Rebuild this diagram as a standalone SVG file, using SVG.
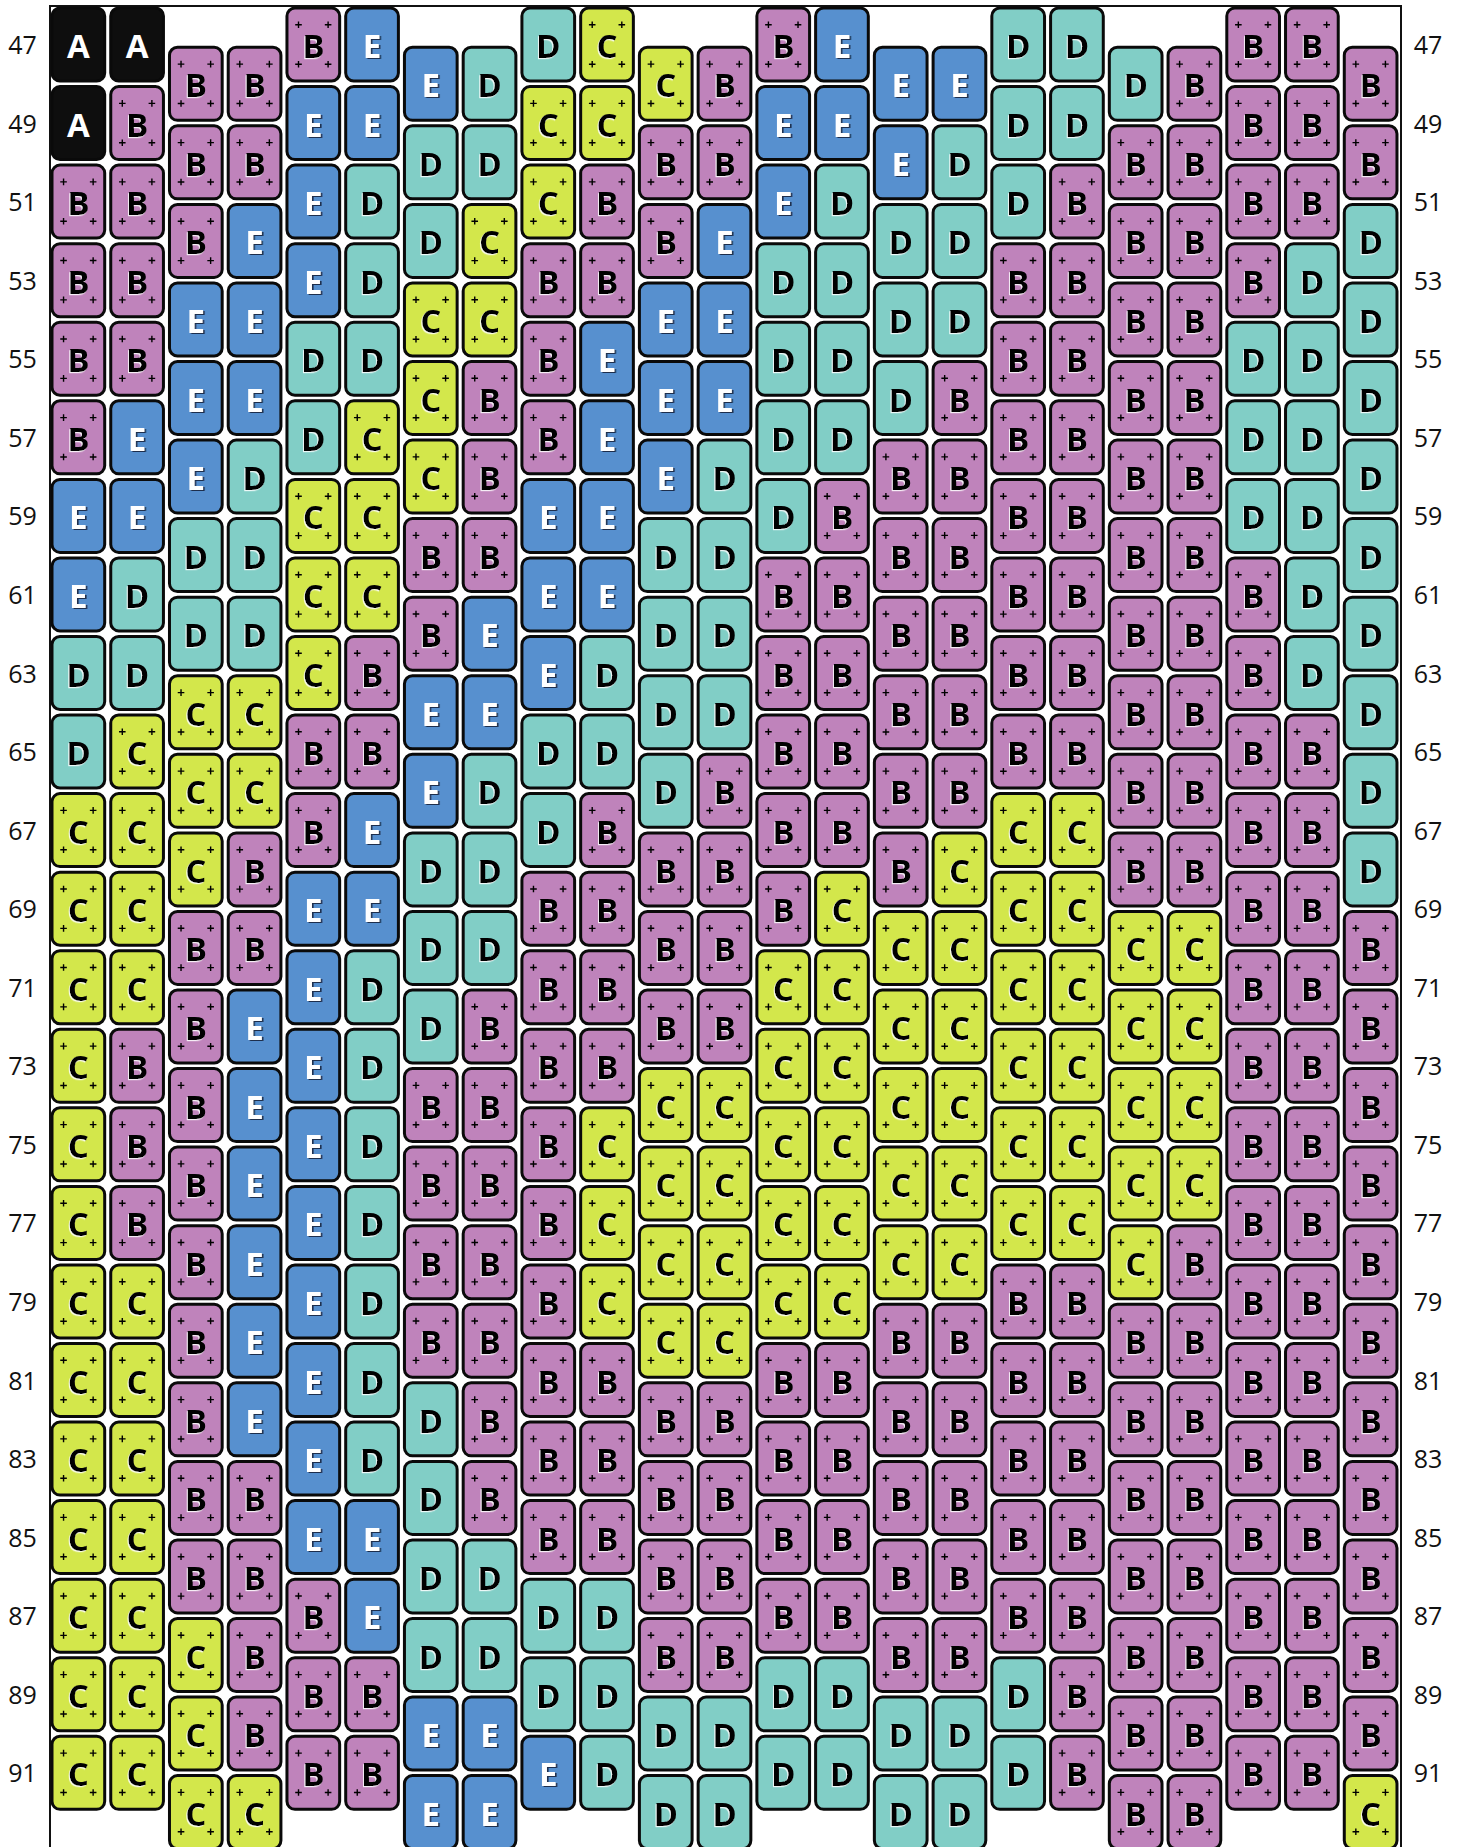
<svg xmlns="http://www.w3.org/2000/svg" xmlns:xlink="http://www.w3.org/1999/xlink" width="1461" height="1847" viewBox="0 0 1461 1847">
<style>
text{font-family:"Open Sans","Noto Sans","DejaVu Sans",sans-serif}
.lbl text{font-size:25px;text-anchor:middle;fill:#111}
.col text{font-size:33px;font-weight:700;text-anchor:middle;fill:#000;filter:url(#hw)}
.A{fill:#0e0e0e}
.B{fill:#BF83BB}
.C{fill:#D3E74B}
.D{fill:#81CEC6}
.E{fill:#5790CF}
.col .A text{fill:#fff;filter:none}
.col .E text{fill:#fff;filter:url(#hd)}
</style>
<defs>
<rect id="r" x="-26.35" y="-50" width="52.7" height="73" rx="8" stroke="#0a0a0a" stroke-width="3"/>
<path id="p" d="M-18.1-33.2h6.6M-14.8-36.5v6.6M11.5-33.2h6.6M14.8-36.5v6.6M-18.1 6.2h6.6M-14.8 2.9v6.6M11.5 6.2h6.6M14.8 2.9v6.6" stroke="#000" stroke-width="1.4" fill="none"/>
<filter id="hw" x="-30%" y="-30%" width="160%" height="160%"><feDropShadow dx="-1" dy="1.2" stdDeviation="0.6" flood-color="#fff" flood-opacity="0.85"/></filter>
<filter id="hd" x="-30%" y="-30%" width="160%" height="160%"><feDropShadow dx="1.6" dy="1" stdDeviation="0.5" flood-color="#16243c" flood-opacity="0.9"/></filter>
</defs>
<rect width="1461" height="1847" fill="#fff"/>
<path id="frame" d="M50 1847V6H1401V1847" fill="none" stroke="#111" stroke-width="2"/>
<g id="row-labels" class="lbl">
<text x="22.5" y="54">47</text><text x="1428" y="54">47</text>
<text x="22.5" y="132.6">49</text><text x="1428" y="132.6">49</text>
<text x="22.5" y="211.1">51</text><text x="1428" y="211.1">51</text>
<text x="22.5" y="289.7">53</text><text x="1428" y="289.7">53</text>
<text x="22.5" y="368.2">55</text><text x="1428" y="368.2">55</text>
<text x="22.5" y="446.8">57</text><text x="1428" y="446.8">57</text>
<text x="22.5" y="525.4">59</text><text x="1428" y="525.4">59</text>
<text x="22.5" y="603.9">61</text><text x="1428" y="603.9">61</text>
<text x="22.5" y="682.5">63</text><text x="1428" y="682.5">63</text>
<text x="22.5" y="761">65</text><text x="1428" y="761">65</text>
<text x="22.5" y="839.6">67</text><text x="1428" y="839.6">67</text>
<text x="22.5" y="918.2">69</text><text x="1428" y="918.2">69</text>
<text x="22.5" y="996.7">71</text><text x="1428" y="996.7">71</text>
<text x="22.5" y="1075.3">73</text><text x="1428" y="1075.3">73</text>
<text x="22.5" y="1153.8">75</text><text x="1428" y="1153.8">75</text>
<text x="22.5" y="1232.4">77</text><text x="1428" y="1232.4">77</text>
<text x="22.5" y="1311">79</text><text x="1428" y="1311">79</text>
<text x="22.5" y="1389.5">81</text><text x="1428" y="1389.5">81</text>
<text x="22.5" y="1468.1">83</text><text x="1428" y="1468.1">83</text>
<text x="22.5" y="1546.6">85</text><text x="1428" y="1546.6">85</text>
<text x="22.5" y="1625.2">87</text><text x="1428" y="1625.2">87</text>
<text x="22.5" y="1703.8">89</text><text x="1428" y="1703.8">89</text>
<text x="22.5" y="1782.3">91</text><text x="1428" y="1782.3">91</text>
</g>
<g id="beads">
<g id="col1" class="col" transform="translate(78.35 13.5)">
<g id="c1r47" class="A" transform="translate(0 44.5)"><use href="#r"/><text>A</text></g>
<g id="c1r49" class="A" transform="translate(0 123.1)"><use href="#r"/><text>A</text></g>
<g id="c1r51" class="B" transform="translate(0 201.6)"><use href="#r"/><use href="#p"/><text>B</text></g>
<g id="c1r53" class="B" transform="translate(0 280.2)"><use href="#r"/><use href="#p"/><text>B</text></g>
<g id="c1r55" class="B" transform="translate(0 358.7)"><use href="#r"/><use href="#p"/><text>B</text></g>
<g id="c1r57" class="B" transform="translate(0 437.3)"><use href="#r"/><use href="#p"/><text>B</text></g>
<g id="c1r59" class="E" transform="translate(0 515.9)"><use href="#r"/><text>E</text></g>
<g id="c1r61" class="E" transform="translate(0 594.4)"><use href="#r"/><text>E</text></g>
<g id="c1r63" class="D" transform="translate(0 673)"><use href="#r"/><text>D</text></g>
<g id="c1r65" class="D" transform="translate(0 751.5)"><use href="#r"/><text>D</text></g>
<g id="c1r67" class="C" transform="translate(0 830.1)"><use href="#r"/><use href="#p"/><text>C</text></g>
<g id="c1r69" class="C" transform="translate(0 908.7)"><use href="#r"/><use href="#p"/><text>C</text></g>
<g id="c1r71" class="C" transform="translate(0 987.2)"><use href="#r"/><use href="#p"/><text>C</text></g>
<g id="c1r73" class="C" transform="translate(0 1065.8)"><use href="#r"/><use href="#p"/><text>C</text></g>
<g id="c1r75" class="C" transform="translate(0 1144.3)"><use href="#r"/><use href="#p"/><text>C</text></g>
<g id="c1r77" class="C" transform="translate(0 1222.9)"><use href="#r"/><use href="#p"/><text>C</text></g>
<g id="c1r79" class="C" transform="translate(0 1301.5)"><use href="#r"/><use href="#p"/><text>C</text></g>
<g id="c1r81" class="C" transform="translate(0 1380)"><use href="#r"/><use href="#p"/><text>C</text></g>
<g id="c1r83" class="C" transform="translate(0 1458.6)"><use href="#r"/><use href="#p"/><text>C</text></g>
<g id="c1r85" class="C" transform="translate(0 1537.1)"><use href="#r"/><use href="#p"/><text>C</text></g>
<g id="c1r87" class="C" transform="translate(0 1615.7)"><use href="#r"/><use href="#p"/><text>C</text></g>
<g id="c1r89" class="C" transform="translate(0 1694.3)"><use href="#r"/><use href="#p"/><text>C</text></g>
<g id="c1r91" class="C" transform="translate(0 1772.8)"><use href="#r"/><use href="#p"/><text>C</text></g>
</g>
<g id="col2" class="col" transform="translate(137.09 13.5)">
<g id="c2r47" class="A" transform="translate(0 44.5)"><use href="#r"/><text>A</text></g>
<g id="c2r49" class="B" transform="translate(0 123.1)"><use href="#r"/><use href="#p"/><text>B</text></g>
<g id="c2r51" class="B" transform="translate(0 201.6)"><use href="#r"/><use href="#p"/><text>B</text></g>
<g id="c2r53" class="B" transform="translate(0 280.2)"><use href="#r"/><use href="#p"/><text>B</text></g>
<g id="c2r55" class="B" transform="translate(0 358.7)"><use href="#r"/><use href="#p"/><text>B</text></g>
<g id="c2r57" class="E" transform="translate(0 437.3)"><use href="#r"/><text>E</text></g>
<g id="c2r59" class="E" transform="translate(0 515.9)"><use href="#r"/><text>E</text></g>
<g id="c2r61" class="D" transform="translate(0 594.4)"><use href="#r"/><text>D</text></g>
<g id="c2r63" class="D" transform="translate(0 673)"><use href="#r"/><text>D</text></g>
<g id="c2r65" class="C" transform="translate(0 751.5)"><use href="#r"/><use href="#p"/><text>C</text></g>
<g id="c2r67" class="C" transform="translate(0 830.1)"><use href="#r"/><use href="#p"/><text>C</text></g>
<g id="c2r69" class="C" transform="translate(0 908.7)"><use href="#r"/><use href="#p"/><text>C</text></g>
<g id="c2r71" class="C" transform="translate(0 987.2)"><use href="#r"/><use href="#p"/><text>C</text></g>
<g id="c2r73" class="B" transform="translate(0 1065.8)"><use href="#r"/><use href="#p"/><text>B</text></g>
<g id="c2r75" class="B" transform="translate(0 1144.3)"><use href="#r"/><use href="#p"/><text>B</text></g>
<g id="c2r77" class="B" transform="translate(0 1222.9)"><use href="#r"/><use href="#p"/><text>B</text></g>
<g id="c2r79" class="C" transform="translate(0 1301.5)"><use href="#r"/><use href="#p"/><text>C</text></g>
<g id="c2r81" class="C" transform="translate(0 1380)"><use href="#r"/><use href="#p"/><text>C</text></g>
<g id="c2r83" class="C" transform="translate(0 1458.6)"><use href="#r"/><use href="#p"/><text>C</text></g>
<g id="c2r85" class="C" transform="translate(0 1537.1)"><use href="#r"/><use href="#p"/><text>C</text></g>
<g id="c2r87" class="C" transform="translate(0 1615.7)"><use href="#r"/><use href="#p"/><text>C</text></g>
<g id="c2r89" class="C" transform="translate(0 1694.3)"><use href="#r"/><use href="#p"/><text>C</text></g>
<g id="c2r91" class="C" transform="translate(0 1772.8)"><use href="#r"/><use href="#p"/><text>C</text></g>
</g>
<g id="col3" class="col" transform="translate(195.83 13.5)">
<g id="c3r48" class="B" transform="translate(0 83.8)"><use href="#r"/><use href="#p"/><text>B</text></g>
<g id="c3r50" class="B" transform="translate(0 162.3)"><use href="#r"/><use href="#p"/><text>B</text></g>
<g id="c3r52" class="B" transform="translate(0 240.9)"><use href="#r"/><use href="#p"/><text>B</text></g>
<g id="c3r54" class="E" transform="translate(0 319.5)"><use href="#r"/><text>E</text></g>
<g id="c3r56" class="E" transform="translate(0 398)"><use href="#r"/><text>E</text></g>
<g id="c3r58" class="E" transform="translate(0 476.6)"><use href="#r"/><text>E</text></g>
<g id="c3r60" class="D" transform="translate(0 555.1)"><use href="#r"/><text>D</text></g>
<g id="c3r62" class="D" transform="translate(0 633.7)"><use href="#r"/><text>D</text></g>
<g id="c3r64" class="C" transform="translate(0 712.3)"><use href="#r"/><use href="#p"/><text>C</text></g>
<g id="c3r66" class="C" transform="translate(0 790.8)"><use href="#r"/><use href="#p"/><text>C</text></g>
<g id="c3r68" class="C" transform="translate(0 869.4)"><use href="#r"/><use href="#p"/><text>C</text></g>
<g id="c3r70" class="B" transform="translate(0 947.9)"><use href="#r"/><use href="#p"/><text>B</text></g>
<g id="c3r72" class="B" transform="translate(0 1026.5)"><use href="#r"/><use href="#p"/><text>B</text></g>
<g id="c3r74" class="B" transform="translate(0 1105.1)"><use href="#r"/><use href="#p"/><text>B</text></g>
<g id="c3r76" class="B" transform="translate(0 1183.6)"><use href="#r"/><use href="#p"/><text>B</text></g>
<g id="c3r78" class="B" transform="translate(0 1262.2)"><use href="#r"/><use href="#p"/><text>B</text></g>
<g id="c3r80" class="B" transform="translate(0 1340.7)"><use href="#r"/><use href="#p"/><text>B</text></g>
<g id="c3r82" class="B" transform="translate(0 1419.3)"><use href="#r"/><use href="#p"/><text>B</text></g>
<g id="c3r84" class="B" transform="translate(0 1497.9)"><use href="#r"/><use href="#p"/><text>B</text></g>
<g id="c3r86" class="B" transform="translate(0 1576.4)"><use href="#r"/><use href="#p"/><text>B</text></g>
<g id="c3r88" class="C" transform="translate(0 1655)"><use href="#r"/><use href="#p"/><text>C</text></g>
<g id="c3r90" class="C" transform="translate(0 1733.5)"><use href="#r"/><use href="#p"/><text>C</text></g>
<g id="c3r92" class="C" transform="translate(0 1812.1)"><use href="#r"/><use href="#p"/><text>C</text></g>
</g>
<g id="col4" class="col" transform="translate(254.57 13.5)">
<g id="c4r48" class="B" transform="translate(0 83.8)"><use href="#r"/><use href="#p"/><text>B</text></g>
<g id="c4r50" class="B" transform="translate(0 162.3)"><use href="#r"/><use href="#p"/><text>B</text></g>
<g id="c4r52" class="E" transform="translate(0 240.9)"><use href="#r"/><text>E</text></g>
<g id="c4r54" class="E" transform="translate(0 319.5)"><use href="#r"/><text>E</text></g>
<g id="c4r56" class="E" transform="translate(0 398)"><use href="#r"/><text>E</text></g>
<g id="c4r58" class="D" transform="translate(0 476.6)"><use href="#r"/><text>D</text></g>
<g id="c4r60" class="D" transform="translate(0 555.1)"><use href="#r"/><text>D</text></g>
<g id="c4r62" class="D" transform="translate(0 633.7)"><use href="#r"/><text>D</text></g>
<g id="c4r64" class="C" transform="translate(0 712.3)"><use href="#r"/><use href="#p"/><text>C</text></g>
<g id="c4r66" class="C" transform="translate(0 790.8)"><use href="#r"/><use href="#p"/><text>C</text></g>
<g id="c4r68" class="B" transform="translate(0 869.4)"><use href="#r"/><use href="#p"/><text>B</text></g>
<g id="c4r70" class="B" transform="translate(0 947.9)"><use href="#r"/><use href="#p"/><text>B</text></g>
<g id="c4r72" class="E" transform="translate(0 1026.5)"><use href="#r"/><text>E</text></g>
<g id="c4r74" class="E" transform="translate(0 1105.1)"><use href="#r"/><text>E</text></g>
<g id="c4r76" class="E" transform="translate(0 1183.6)"><use href="#r"/><text>E</text></g>
<g id="c4r78" class="E" transform="translate(0 1262.2)"><use href="#r"/><text>E</text></g>
<g id="c4r80" class="E" transform="translate(0 1340.7)"><use href="#r"/><text>E</text></g>
<g id="c4r82" class="E" transform="translate(0 1419.3)"><use href="#r"/><text>E</text></g>
<g id="c4r84" class="B" transform="translate(0 1497.9)"><use href="#r"/><use href="#p"/><text>B</text></g>
<g id="c4r86" class="B" transform="translate(0 1576.4)"><use href="#r"/><use href="#p"/><text>B</text></g>
<g id="c4r88" class="B" transform="translate(0 1655)"><use href="#r"/><use href="#p"/><text>B</text></g>
<g id="c4r90" class="B" transform="translate(0 1733.5)"><use href="#r"/><use href="#p"/><text>B</text></g>
<g id="c4r92" class="C" transform="translate(0 1812.1)"><use href="#r"/><use href="#p"/><text>C</text></g>
</g>
<g id="col5" class="col" transform="translate(313.31 13.5)">
<g id="c5r47" class="B" transform="translate(0 44.5)"><use href="#r"/><use href="#p"/><text>B</text></g>
<g id="c5r49" class="E" transform="translate(0 123.1)"><use href="#r"/><text>E</text></g>
<g id="c5r51" class="E" transform="translate(0 201.6)"><use href="#r"/><text>E</text></g>
<g id="c5r53" class="E" transform="translate(0 280.2)"><use href="#r"/><text>E</text></g>
<g id="c5r55" class="D" transform="translate(0 358.7)"><use href="#r"/><text>D</text></g>
<g id="c5r57" class="D" transform="translate(0 437.3)"><use href="#r"/><text>D</text></g>
<g id="c5r59" class="C" transform="translate(0 515.9)"><use href="#r"/><use href="#p"/><text>C</text></g>
<g id="c5r61" class="C" transform="translate(0 594.4)"><use href="#r"/><use href="#p"/><text>C</text></g>
<g id="c5r63" class="C" transform="translate(0 673)"><use href="#r"/><use href="#p"/><text>C</text></g>
<g id="c5r65" class="B" transform="translate(0 751.5)"><use href="#r"/><use href="#p"/><text>B</text></g>
<g id="c5r67" class="B" transform="translate(0 830.1)"><use href="#r"/><use href="#p"/><text>B</text></g>
<g id="c5r69" class="E" transform="translate(0 908.7)"><use href="#r"/><text>E</text></g>
<g id="c5r71" class="E" transform="translate(0 987.2)"><use href="#r"/><text>E</text></g>
<g id="c5r73" class="E" transform="translate(0 1065.8)"><use href="#r"/><text>E</text></g>
<g id="c5r75" class="E" transform="translate(0 1144.3)"><use href="#r"/><text>E</text></g>
<g id="c5r77" class="E" transform="translate(0 1222.9)"><use href="#r"/><text>E</text></g>
<g id="c5r79" class="E" transform="translate(0 1301.5)"><use href="#r"/><text>E</text></g>
<g id="c5r81" class="E" transform="translate(0 1380)"><use href="#r"/><text>E</text></g>
<g id="c5r83" class="E" transform="translate(0 1458.6)"><use href="#r"/><text>E</text></g>
<g id="c5r85" class="E" transform="translate(0 1537.1)"><use href="#r"/><text>E</text></g>
<g id="c5r87" class="B" transform="translate(0 1615.7)"><use href="#r"/><use href="#p"/><text>B</text></g>
<g id="c5r89" class="B" transform="translate(0 1694.3)"><use href="#r"/><use href="#p"/><text>B</text></g>
<g id="c5r91" class="B" transform="translate(0 1772.8)"><use href="#r"/><use href="#p"/><text>B</text></g>
</g>
<g id="col6" class="col" transform="translate(372.05 13.5)">
<g id="c6r47" class="E" transform="translate(0 44.5)"><use href="#r"/><text>E</text></g>
<g id="c6r49" class="E" transform="translate(0 123.1)"><use href="#r"/><text>E</text></g>
<g id="c6r51" class="D" transform="translate(0 201.6)"><use href="#r"/><text>D</text></g>
<g id="c6r53" class="D" transform="translate(0 280.2)"><use href="#r"/><text>D</text></g>
<g id="c6r55" class="D" transform="translate(0 358.7)"><use href="#r"/><text>D</text></g>
<g id="c6r57" class="C" transform="translate(0 437.3)"><use href="#r"/><use href="#p"/><text>C</text></g>
<g id="c6r59" class="C" transform="translate(0 515.9)"><use href="#r"/><use href="#p"/><text>C</text></g>
<g id="c6r61" class="C" transform="translate(0 594.4)"><use href="#r"/><use href="#p"/><text>C</text></g>
<g id="c6r63" class="B" transform="translate(0 673)"><use href="#r"/><use href="#p"/><text>B</text></g>
<g id="c6r65" class="B" transform="translate(0 751.5)"><use href="#r"/><use href="#p"/><text>B</text></g>
<g id="c6r67" class="E" transform="translate(0 830.1)"><use href="#r"/><text>E</text></g>
<g id="c6r69" class="E" transform="translate(0 908.7)"><use href="#r"/><text>E</text></g>
<g id="c6r71" class="D" transform="translate(0 987.2)"><use href="#r"/><text>D</text></g>
<g id="c6r73" class="D" transform="translate(0 1065.8)"><use href="#r"/><text>D</text></g>
<g id="c6r75" class="D" transform="translate(0 1144.3)"><use href="#r"/><text>D</text></g>
<g id="c6r77" class="D" transform="translate(0 1222.9)"><use href="#r"/><text>D</text></g>
<g id="c6r79" class="D" transform="translate(0 1301.5)"><use href="#r"/><text>D</text></g>
<g id="c6r81" class="D" transform="translate(0 1380)"><use href="#r"/><text>D</text></g>
<g id="c6r83" class="D" transform="translate(0 1458.6)"><use href="#r"/><text>D</text></g>
<g id="c6r85" class="E" transform="translate(0 1537.1)"><use href="#r"/><text>E</text></g>
<g id="c6r87" class="E" transform="translate(0 1615.7)"><use href="#r"/><text>E</text></g>
<g id="c6r89" class="B" transform="translate(0 1694.3)"><use href="#r"/><use href="#p"/><text>B</text></g>
<g id="c6r91" class="B" transform="translate(0 1772.8)"><use href="#r"/><use href="#p"/><text>B</text></g>
</g>
<g id="col7" class="col" transform="translate(430.79 13.5)">
<g id="c7r48" class="E" transform="translate(0 83.8)"><use href="#r"/><text>E</text></g>
<g id="c7r50" class="D" transform="translate(0 162.3)"><use href="#r"/><text>D</text></g>
<g id="c7r52" class="D" transform="translate(0 240.9)"><use href="#r"/><text>D</text></g>
<g id="c7r54" class="C" transform="translate(0 319.5)"><use href="#r"/><use href="#p"/><text>C</text></g>
<g id="c7r56" class="C" transform="translate(0 398)"><use href="#r"/><use href="#p"/><text>C</text></g>
<g id="c7r58" class="C" transform="translate(0 476.6)"><use href="#r"/><use href="#p"/><text>C</text></g>
<g id="c7r60" class="B" transform="translate(0 555.1)"><use href="#r"/><use href="#p"/><text>B</text></g>
<g id="c7r62" class="B" transform="translate(0 633.7)"><use href="#r"/><use href="#p"/><text>B</text></g>
<g id="c7r64" class="E" transform="translate(0 712.3)"><use href="#r"/><text>E</text></g>
<g id="c7r66" class="E" transform="translate(0 790.8)"><use href="#r"/><text>E</text></g>
<g id="c7r68" class="D" transform="translate(0 869.4)"><use href="#r"/><text>D</text></g>
<g id="c7r70" class="D" transform="translate(0 947.9)"><use href="#r"/><text>D</text></g>
<g id="c7r72" class="D" transform="translate(0 1026.5)"><use href="#r"/><text>D</text></g>
<g id="c7r74" class="B" transform="translate(0 1105.1)"><use href="#r"/><use href="#p"/><text>B</text></g>
<g id="c7r76" class="B" transform="translate(0 1183.6)"><use href="#r"/><use href="#p"/><text>B</text></g>
<g id="c7r78" class="B" transform="translate(0 1262.2)"><use href="#r"/><use href="#p"/><text>B</text></g>
<g id="c7r80" class="B" transform="translate(0 1340.7)"><use href="#r"/><use href="#p"/><text>B</text></g>
<g id="c7r82" class="D" transform="translate(0 1419.3)"><use href="#r"/><text>D</text></g>
<g id="c7r84" class="D" transform="translate(0 1497.9)"><use href="#r"/><text>D</text></g>
<g id="c7r86" class="D" transform="translate(0 1576.4)"><use href="#r"/><text>D</text></g>
<g id="c7r88" class="D" transform="translate(0 1655)"><use href="#r"/><text>D</text></g>
<g id="c7r90" class="E" transform="translate(0 1733.5)"><use href="#r"/><text>E</text></g>
<g id="c7r92" class="E" transform="translate(0 1812.1)"><use href="#r"/><text>E</text></g>
</g>
<g id="col8" class="col" transform="translate(489.53 13.5)">
<g id="c8r48" class="D" transform="translate(0 83.8)"><use href="#r"/><text>D</text></g>
<g id="c8r50" class="D" transform="translate(0 162.3)"><use href="#r"/><text>D</text></g>
<g id="c8r52" class="C" transform="translate(0 240.9)"><use href="#r"/><use href="#p"/><text>C</text></g>
<g id="c8r54" class="C" transform="translate(0 319.5)"><use href="#r"/><use href="#p"/><text>C</text></g>
<g id="c8r56" class="B" transform="translate(0 398)"><use href="#r"/><use href="#p"/><text>B</text></g>
<g id="c8r58" class="B" transform="translate(0 476.6)"><use href="#r"/><use href="#p"/><text>B</text></g>
<g id="c8r60" class="B" transform="translate(0 555.1)"><use href="#r"/><use href="#p"/><text>B</text></g>
<g id="c8r62" class="E" transform="translate(0 633.7)"><use href="#r"/><text>E</text></g>
<g id="c8r64" class="E" transform="translate(0 712.3)"><use href="#r"/><text>E</text></g>
<g id="c8r66" class="D" transform="translate(0 790.8)"><use href="#r"/><text>D</text></g>
<g id="c8r68" class="D" transform="translate(0 869.4)"><use href="#r"/><text>D</text></g>
<g id="c8r70" class="D" transform="translate(0 947.9)"><use href="#r"/><text>D</text></g>
<g id="c8r72" class="B" transform="translate(0 1026.5)"><use href="#r"/><use href="#p"/><text>B</text></g>
<g id="c8r74" class="B" transform="translate(0 1105.1)"><use href="#r"/><use href="#p"/><text>B</text></g>
<g id="c8r76" class="B" transform="translate(0 1183.6)"><use href="#r"/><use href="#p"/><text>B</text></g>
<g id="c8r78" class="B" transform="translate(0 1262.2)"><use href="#r"/><use href="#p"/><text>B</text></g>
<g id="c8r80" class="B" transform="translate(0 1340.7)"><use href="#r"/><use href="#p"/><text>B</text></g>
<g id="c8r82" class="B" transform="translate(0 1419.3)"><use href="#r"/><use href="#p"/><text>B</text></g>
<g id="c8r84" class="B" transform="translate(0 1497.9)"><use href="#r"/><use href="#p"/><text>B</text></g>
<g id="c8r86" class="D" transform="translate(0 1576.4)"><use href="#r"/><text>D</text></g>
<g id="c8r88" class="D" transform="translate(0 1655)"><use href="#r"/><text>D</text></g>
<g id="c8r90" class="E" transform="translate(0 1733.5)"><use href="#r"/><text>E</text></g>
<g id="c8r92" class="E" transform="translate(0 1812.1)"><use href="#r"/><text>E</text></g>
</g>
<g id="col9" class="col" transform="translate(548.27 13.5)">
<g id="c9r47" class="D" transform="translate(0 44.5)"><use href="#r"/><text>D</text></g>
<g id="c9r49" class="C" transform="translate(0 123.1)"><use href="#r"/><use href="#p"/><text>C</text></g>
<g id="c9r51" class="C" transform="translate(0 201.6)"><use href="#r"/><use href="#p"/><text>C</text></g>
<g id="c9r53" class="B" transform="translate(0 280.2)"><use href="#r"/><use href="#p"/><text>B</text></g>
<g id="c9r55" class="B" transform="translate(0 358.7)"><use href="#r"/><use href="#p"/><text>B</text></g>
<g id="c9r57" class="B" transform="translate(0 437.3)"><use href="#r"/><use href="#p"/><text>B</text></g>
<g id="c9r59" class="E" transform="translate(0 515.9)"><use href="#r"/><text>E</text></g>
<g id="c9r61" class="E" transform="translate(0 594.4)"><use href="#r"/><text>E</text></g>
<g id="c9r63" class="E" transform="translate(0 673)"><use href="#r"/><text>E</text></g>
<g id="c9r65" class="D" transform="translate(0 751.5)"><use href="#r"/><text>D</text></g>
<g id="c9r67" class="D" transform="translate(0 830.1)"><use href="#r"/><text>D</text></g>
<g id="c9r69" class="B" transform="translate(0 908.7)"><use href="#r"/><use href="#p"/><text>B</text></g>
<g id="c9r71" class="B" transform="translate(0 987.2)"><use href="#r"/><use href="#p"/><text>B</text></g>
<g id="c9r73" class="B" transform="translate(0 1065.8)"><use href="#r"/><use href="#p"/><text>B</text></g>
<g id="c9r75" class="B" transform="translate(0 1144.3)"><use href="#r"/><use href="#p"/><text>B</text></g>
<g id="c9r77" class="B" transform="translate(0 1222.9)"><use href="#r"/><use href="#p"/><text>B</text></g>
<g id="c9r79" class="B" transform="translate(0 1301.5)"><use href="#r"/><use href="#p"/><text>B</text></g>
<g id="c9r81" class="B" transform="translate(0 1380)"><use href="#r"/><use href="#p"/><text>B</text></g>
<g id="c9r83" class="B" transform="translate(0 1458.6)"><use href="#r"/><use href="#p"/><text>B</text></g>
<g id="c9r85" class="B" transform="translate(0 1537.1)"><use href="#r"/><use href="#p"/><text>B</text></g>
<g id="c9r87" class="D" transform="translate(0 1615.7)"><use href="#r"/><text>D</text></g>
<g id="c9r89" class="D" transform="translate(0 1694.3)"><use href="#r"/><text>D</text></g>
<g id="c9r91" class="E" transform="translate(0 1772.8)"><use href="#r"/><text>E</text></g>
</g>
<g id="col10" class="col" transform="translate(607.01 13.5)">
<g id="c10r47" class="C" transform="translate(0 44.5)"><use href="#r"/><use href="#p"/><text>C</text></g>
<g id="c10r49" class="C" transform="translate(0 123.1)"><use href="#r"/><use href="#p"/><text>C</text></g>
<g id="c10r51" class="B" transform="translate(0 201.6)"><use href="#r"/><use href="#p"/><text>B</text></g>
<g id="c10r53" class="B" transform="translate(0 280.2)"><use href="#r"/><use href="#p"/><text>B</text></g>
<g id="c10r55" class="E" transform="translate(0 358.7)"><use href="#r"/><text>E</text></g>
<g id="c10r57" class="E" transform="translate(0 437.3)"><use href="#r"/><text>E</text></g>
<g id="c10r59" class="E" transform="translate(0 515.9)"><use href="#r"/><text>E</text></g>
<g id="c10r61" class="E" transform="translate(0 594.4)"><use href="#r"/><text>E</text></g>
<g id="c10r63" class="D" transform="translate(0 673)"><use href="#r"/><text>D</text></g>
<g id="c10r65" class="D" transform="translate(0 751.5)"><use href="#r"/><text>D</text></g>
<g id="c10r67" class="B" transform="translate(0 830.1)"><use href="#r"/><use href="#p"/><text>B</text></g>
<g id="c10r69" class="B" transform="translate(0 908.7)"><use href="#r"/><use href="#p"/><text>B</text></g>
<g id="c10r71" class="B" transform="translate(0 987.2)"><use href="#r"/><use href="#p"/><text>B</text></g>
<g id="c10r73" class="B" transform="translate(0 1065.8)"><use href="#r"/><use href="#p"/><text>B</text></g>
<g id="c10r75" class="C" transform="translate(0 1144.3)"><use href="#r"/><use href="#p"/><text>C</text></g>
<g id="c10r77" class="C" transform="translate(0 1222.9)"><use href="#r"/><use href="#p"/><text>C</text></g>
<g id="c10r79" class="C" transform="translate(0 1301.5)"><use href="#r"/><use href="#p"/><text>C</text></g>
<g id="c10r81" class="B" transform="translate(0 1380)"><use href="#r"/><use href="#p"/><text>B</text></g>
<g id="c10r83" class="B" transform="translate(0 1458.6)"><use href="#r"/><use href="#p"/><text>B</text></g>
<g id="c10r85" class="B" transform="translate(0 1537.1)"><use href="#r"/><use href="#p"/><text>B</text></g>
<g id="c10r87" class="D" transform="translate(0 1615.7)"><use href="#r"/><text>D</text></g>
<g id="c10r89" class="D" transform="translate(0 1694.3)"><use href="#r"/><text>D</text></g>
<g id="c10r91" class="D" transform="translate(0 1772.8)"><use href="#r"/><text>D</text></g>
</g>
<g id="col11" class="col" transform="translate(665.75 13.5)">
<g id="c11r48" class="C" transform="translate(0 83.8)"><use href="#r"/><use href="#p"/><text>C</text></g>
<g id="c11r50" class="B" transform="translate(0 162.3)"><use href="#r"/><use href="#p"/><text>B</text></g>
<g id="c11r52" class="B" transform="translate(0 240.9)"><use href="#r"/><use href="#p"/><text>B</text></g>
<g id="c11r54" class="E" transform="translate(0 319.5)"><use href="#r"/><text>E</text></g>
<g id="c11r56" class="E" transform="translate(0 398)"><use href="#r"/><text>E</text></g>
<g id="c11r58" class="E" transform="translate(0 476.6)"><use href="#r"/><text>E</text></g>
<g id="c11r60" class="D" transform="translate(0 555.1)"><use href="#r"/><text>D</text></g>
<g id="c11r62" class="D" transform="translate(0 633.7)"><use href="#r"/><text>D</text></g>
<g id="c11r64" class="D" transform="translate(0 712.3)"><use href="#r"/><text>D</text></g>
<g id="c11r66" class="D" transform="translate(0 790.8)"><use href="#r"/><text>D</text></g>
<g id="c11r68" class="B" transform="translate(0 869.4)"><use href="#r"/><use href="#p"/><text>B</text></g>
<g id="c11r70" class="B" transform="translate(0 947.9)"><use href="#r"/><use href="#p"/><text>B</text></g>
<g id="c11r72" class="B" transform="translate(0 1026.5)"><use href="#r"/><use href="#p"/><text>B</text></g>
<g id="c11r74" class="C" transform="translate(0 1105.1)"><use href="#r"/><use href="#p"/><text>C</text></g>
<g id="c11r76" class="C" transform="translate(0 1183.6)"><use href="#r"/><use href="#p"/><text>C</text></g>
<g id="c11r78" class="C" transform="translate(0 1262.2)"><use href="#r"/><use href="#p"/><text>C</text></g>
<g id="c11r80" class="C" transform="translate(0 1340.7)"><use href="#r"/><use href="#p"/><text>C</text></g>
<g id="c11r82" class="B" transform="translate(0 1419.3)"><use href="#r"/><use href="#p"/><text>B</text></g>
<g id="c11r84" class="B" transform="translate(0 1497.9)"><use href="#r"/><use href="#p"/><text>B</text></g>
<g id="c11r86" class="B" transform="translate(0 1576.4)"><use href="#r"/><use href="#p"/><text>B</text></g>
<g id="c11r88" class="B" transform="translate(0 1655)"><use href="#r"/><use href="#p"/><text>B</text></g>
<g id="c11r90" class="D" transform="translate(0 1733.5)"><use href="#r"/><text>D</text></g>
<g id="c11r92" class="D" transform="translate(0 1812.1)"><use href="#r"/><text>D</text></g>
</g>
<g id="col12" class="col" transform="translate(724.49 13.5)">
<g id="c12r48" class="B" transform="translate(0 83.8)"><use href="#r"/><use href="#p"/><text>B</text></g>
<g id="c12r50" class="B" transform="translate(0 162.3)"><use href="#r"/><use href="#p"/><text>B</text></g>
<g id="c12r52" class="E" transform="translate(0 240.9)"><use href="#r"/><text>E</text></g>
<g id="c12r54" class="E" transform="translate(0 319.5)"><use href="#r"/><text>E</text></g>
<g id="c12r56" class="E" transform="translate(0 398)"><use href="#r"/><text>E</text></g>
<g id="c12r58" class="D" transform="translate(0 476.6)"><use href="#r"/><text>D</text></g>
<g id="c12r60" class="D" transform="translate(0 555.1)"><use href="#r"/><text>D</text></g>
<g id="c12r62" class="D" transform="translate(0 633.7)"><use href="#r"/><text>D</text></g>
<g id="c12r64" class="D" transform="translate(0 712.3)"><use href="#r"/><text>D</text></g>
<g id="c12r66" class="B" transform="translate(0 790.8)"><use href="#r"/><use href="#p"/><text>B</text></g>
<g id="c12r68" class="B" transform="translate(0 869.4)"><use href="#r"/><use href="#p"/><text>B</text></g>
<g id="c12r70" class="B" transform="translate(0 947.9)"><use href="#r"/><use href="#p"/><text>B</text></g>
<g id="c12r72" class="B" transform="translate(0 1026.5)"><use href="#r"/><use href="#p"/><text>B</text></g>
<g id="c12r74" class="C" transform="translate(0 1105.1)"><use href="#r"/><use href="#p"/><text>C</text></g>
<g id="c12r76" class="C" transform="translate(0 1183.6)"><use href="#r"/><use href="#p"/><text>C</text></g>
<g id="c12r78" class="C" transform="translate(0 1262.2)"><use href="#r"/><use href="#p"/><text>C</text></g>
<g id="c12r80" class="C" transform="translate(0 1340.7)"><use href="#r"/><use href="#p"/><text>C</text></g>
<g id="c12r82" class="B" transform="translate(0 1419.3)"><use href="#r"/><use href="#p"/><text>B</text></g>
<g id="c12r84" class="B" transform="translate(0 1497.9)"><use href="#r"/><use href="#p"/><text>B</text></g>
<g id="c12r86" class="B" transform="translate(0 1576.4)"><use href="#r"/><use href="#p"/><text>B</text></g>
<g id="c12r88" class="B" transform="translate(0 1655)"><use href="#r"/><use href="#p"/><text>B</text></g>
<g id="c12r90" class="D" transform="translate(0 1733.5)"><use href="#r"/><text>D</text></g>
<g id="c12r92" class="D" transform="translate(0 1812.1)"><use href="#r"/><text>D</text></g>
</g>
<g id="col13" class="col" transform="translate(783.23 13.5)">
<g id="c13r47" class="B" transform="translate(0 44.5)"><use href="#r"/><use href="#p"/><text>B</text></g>
<g id="c13r49" class="E" transform="translate(0 123.1)"><use href="#r"/><text>E</text></g>
<g id="c13r51" class="E" transform="translate(0 201.6)"><use href="#r"/><text>E</text></g>
<g id="c13r53" class="D" transform="translate(0 280.2)"><use href="#r"/><text>D</text></g>
<g id="c13r55" class="D" transform="translate(0 358.7)"><use href="#r"/><text>D</text></g>
<g id="c13r57" class="D" transform="translate(0 437.3)"><use href="#r"/><text>D</text></g>
<g id="c13r59" class="D" transform="translate(0 515.9)"><use href="#r"/><text>D</text></g>
<g id="c13r61" class="B" transform="translate(0 594.4)"><use href="#r"/><use href="#p"/><text>B</text></g>
<g id="c13r63" class="B" transform="translate(0 673)"><use href="#r"/><use href="#p"/><text>B</text></g>
<g id="c13r65" class="B" transform="translate(0 751.5)"><use href="#r"/><use href="#p"/><text>B</text></g>
<g id="c13r67" class="B" transform="translate(0 830.1)"><use href="#r"/><use href="#p"/><text>B</text></g>
<g id="c13r69" class="B" transform="translate(0 908.7)"><use href="#r"/><use href="#p"/><text>B</text></g>
<g id="c13r71" class="C" transform="translate(0 987.2)"><use href="#r"/><use href="#p"/><text>C</text></g>
<g id="c13r73" class="C" transform="translate(0 1065.8)"><use href="#r"/><use href="#p"/><text>C</text></g>
<g id="c13r75" class="C" transform="translate(0 1144.3)"><use href="#r"/><use href="#p"/><text>C</text></g>
<g id="c13r77" class="C" transform="translate(0 1222.9)"><use href="#r"/><use href="#p"/><text>C</text></g>
<g id="c13r79" class="C" transform="translate(0 1301.5)"><use href="#r"/><use href="#p"/><text>C</text></g>
<g id="c13r81" class="B" transform="translate(0 1380)"><use href="#r"/><use href="#p"/><text>B</text></g>
<g id="c13r83" class="B" transform="translate(0 1458.6)"><use href="#r"/><use href="#p"/><text>B</text></g>
<g id="c13r85" class="B" transform="translate(0 1537.1)"><use href="#r"/><use href="#p"/><text>B</text></g>
<g id="c13r87" class="B" transform="translate(0 1615.7)"><use href="#r"/><use href="#p"/><text>B</text></g>
<g id="c13r89" class="D" transform="translate(0 1694.3)"><use href="#r"/><text>D</text></g>
<g id="c13r91" class="D" transform="translate(0 1772.8)"><use href="#r"/><text>D</text></g>
</g>
<g id="col14" class="col" transform="translate(841.97 13.5)">
<g id="c14r47" class="E" transform="translate(0 44.5)"><use href="#r"/><text>E</text></g>
<g id="c14r49" class="E" transform="translate(0 123.1)"><use href="#r"/><text>E</text></g>
<g id="c14r51" class="D" transform="translate(0 201.6)"><use href="#r"/><text>D</text></g>
<g id="c14r53" class="D" transform="translate(0 280.2)"><use href="#r"/><text>D</text></g>
<g id="c14r55" class="D" transform="translate(0 358.7)"><use href="#r"/><text>D</text></g>
<g id="c14r57" class="D" transform="translate(0 437.3)"><use href="#r"/><text>D</text></g>
<g id="c14r59" class="B" transform="translate(0 515.9)"><use href="#r"/><use href="#p"/><text>B</text></g>
<g id="c14r61" class="B" transform="translate(0 594.4)"><use href="#r"/><use href="#p"/><text>B</text></g>
<g id="c14r63" class="B" transform="translate(0 673)"><use href="#r"/><use href="#p"/><text>B</text></g>
<g id="c14r65" class="B" transform="translate(0 751.5)"><use href="#r"/><use href="#p"/><text>B</text></g>
<g id="c14r67" class="B" transform="translate(0 830.1)"><use href="#r"/><use href="#p"/><text>B</text></g>
<g id="c14r69" class="C" transform="translate(0 908.7)"><use href="#r"/><use href="#p"/><text>C</text></g>
<g id="c14r71" class="C" transform="translate(0 987.2)"><use href="#r"/><use href="#p"/><text>C</text></g>
<g id="c14r73" class="C" transform="translate(0 1065.8)"><use href="#r"/><use href="#p"/><text>C</text></g>
<g id="c14r75" class="C" transform="translate(0 1144.3)"><use href="#r"/><use href="#p"/><text>C</text></g>
<g id="c14r77" class="C" transform="translate(0 1222.9)"><use href="#r"/><use href="#p"/><text>C</text></g>
<g id="c14r79" class="C" transform="translate(0 1301.5)"><use href="#r"/><use href="#p"/><text>C</text></g>
<g id="c14r81" class="B" transform="translate(0 1380)"><use href="#r"/><use href="#p"/><text>B</text></g>
<g id="c14r83" class="B" transform="translate(0 1458.6)"><use href="#r"/><use href="#p"/><text>B</text></g>
<g id="c14r85" class="B" transform="translate(0 1537.1)"><use href="#r"/><use href="#p"/><text>B</text></g>
<g id="c14r87" class="B" transform="translate(0 1615.7)"><use href="#r"/><use href="#p"/><text>B</text></g>
<g id="c14r89" class="D" transform="translate(0 1694.3)"><use href="#r"/><text>D</text></g>
<g id="c14r91" class="D" transform="translate(0 1772.8)"><use href="#r"/><text>D</text></g>
</g>
<g id="col15" class="col" transform="translate(900.71 13.5)">
<g id="c15r48" class="E" transform="translate(0 83.8)"><use href="#r"/><text>E</text></g>
<g id="c15r50" class="E" transform="translate(0 162.3)"><use href="#r"/><text>E</text></g>
<g id="c15r52" class="D" transform="translate(0 240.9)"><use href="#r"/><text>D</text></g>
<g id="c15r54" class="D" transform="translate(0 319.5)"><use href="#r"/><text>D</text></g>
<g id="c15r56" class="D" transform="translate(0 398)"><use href="#r"/><text>D</text></g>
<g id="c15r58" class="B" transform="translate(0 476.6)"><use href="#r"/><use href="#p"/><text>B</text></g>
<g id="c15r60" class="B" transform="translate(0 555.1)"><use href="#r"/><use href="#p"/><text>B</text></g>
<g id="c15r62" class="B" transform="translate(0 633.7)"><use href="#r"/><use href="#p"/><text>B</text></g>
<g id="c15r64" class="B" transform="translate(0 712.3)"><use href="#r"/><use href="#p"/><text>B</text></g>
<g id="c15r66" class="B" transform="translate(0 790.8)"><use href="#r"/><use href="#p"/><text>B</text></g>
<g id="c15r68" class="B" transform="translate(0 869.4)"><use href="#r"/><use href="#p"/><text>B</text></g>
<g id="c15r70" class="C" transform="translate(0 947.9)"><use href="#r"/><use href="#p"/><text>C</text></g>
<g id="c15r72" class="C" transform="translate(0 1026.5)"><use href="#r"/><use href="#p"/><text>C</text></g>
<g id="c15r74" class="C" transform="translate(0 1105.1)"><use href="#r"/><use href="#p"/><text>C</text></g>
<g id="c15r76" class="C" transform="translate(0 1183.6)"><use href="#r"/><use href="#p"/><text>C</text></g>
<g id="c15r78" class="C" transform="translate(0 1262.2)"><use href="#r"/><use href="#p"/><text>C</text></g>
<g id="c15r80" class="B" transform="translate(0 1340.7)"><use href="#r"/><use href="#p"/><text>B</text></g>
<g id="c15r82" class="B" transform="translate(0 1419.3)"><use href="#r"/><use href="#p"/><text>B</text></g>
<g id="c15r84" class="B" transform="translate(0 1497.9)"><use href="#r"/><use href="#p"/><text>B</text></g>
<g id="c15r86" class="B" transform="translate(0 1576.4)"><use href="#r"/><use href="#p"/><text>B</text></g>
<g id="c15r88" class="B" transform="translate(0 1655)"><use href="#r"/><use href="#p"/><text>B</text></g>
<g id="c15r90" class="D" transform="translate(0 1733.5)"><use href="#r"/><text>D</text></g>
<g id="c15r92" class="D" transform="translate(0 1812.1)"><use href="#r"/><text>D</text></g>
</g>
<g id="col16" class="col" transform="translate(959.45 13.5)">
<g id="c16r48" class="E" transform="translate(0 83.8)"><use href="#r"/><text>E</text></g>
<g id="c16r50" class="D" transform="translate(0 162.3)"><use href="#r"/><text>D</text></g>
<g id="c16r52" class="D" transform="translate(0 240.9)"><use href="#r"/><text>D</text></g>
<g id="c16r54" class="D" transform="translate(0 319.5)"><use href="#r"/><text>D</text></g>
<g id="c16r56" class="B" transform="translate(0 398)"><use href="#r"/><use href="#p"/><text>B</text></g>
<g id="c16r58" class="B" transform="translate(0 476.6)"><use href="#r"/><use href="#p"/><text>B</text></g>
<g id="c16r60" class="B" transform="translate(0 555.1)"><use href="#r"/><use href="#p"/><text>B</text></g>
<g id="c16r62" class="B" transform="translate(0 633.7)"><use href="#r"/><use href="#p"/><text>B</text></g>
<g id="c16r64" class="B" transform="translate(0 712.3)"><use href="#r"/><use href="#p"/><text>B</text></g>
<g id="c16r66" class="B" transform="translate(0 790.8)"><use href="#r"/><use href="#p"/><text>B</text></g>
<g id="c16r68" class="C" transform="translate(0 869.4)"><use href="#r"/><use href="#p"/><text>C</text></g>
<g id="c16r70" class="C" transform="translate(0 947.9)"><use href="#r"/><use href="#p"/><text>C</text></g>
<g id="c16r72" class="C" transform="translate(0 1026.5)"><use href="#r"/><use href="#p"/><text>C</text></g>
<g id="c16r74" class="C" transform="translate(0 1105.1)"><use href="#r"/><use href="#p"/><text>C</text></g>
<g id="c16r76" class="C" transform="translate(0 1183.6)"><use href="#r"/><use href="#p"/><text>C</text></g>
<g id="c16r78" class="C" transform="translate(0 1262.2)"><use href="#r"/><use href="#p"/><text>C</text></g>
<g id="c16r80" class="B" transform="translate(0 1340.7)"><use href="#r"/><use href="#p"/><text>B</text></g>
<g id="c16r82" class="B" transform="translate(0 1419.3)"><use href="#r"/><use href="#p"/><text>B</text></g>
<g id="c16r84" class="B" transform="translate(0 1497.9)"><use href="#r"/><use href="#p"/><text>B</text></g>
<g id="c16r86" class="B" transform="translate(0 1576.4)"><use href="#r"/><use href="#p"/><text>B</text></g>
<g id="c16r88" class="B" transform="translate(0 1655)"><use href="#r"/><use href="#p"/><text>B</text></g>
<g id="c16r90" class="D" transform="translate(0 1733.5)"><use href="#r"/><text>D</text></g>
<g id="c16r92" class="D" transform="translate(0 1812.1)"><use href="#r"/><text>D</text></g>
</g>
<g id="col17" class="col" transform="translate(1018.19 13.5)">
<g id="c17r47" class="D" transform="translate(0 44.5)"><use href="#r"/><text>D</text></g>
<g id="c17r49" class="D" transform="translate(0 123.1)"><use href="#r"/><text>D</text></g>
<g id="c17r51" class="D" transform="translate(0 201.6)"><use href="#r"/><text>D</text></g>
<g id="c17r53" class="B" transform="translate(0 280.2)"><use href="#r"/><use href="#p"/><text>B</text></g>
<g id="c17r55" class="B" transform="translate(0 358.7)"><use href="#r"/><use href="#p"/><text>B</text></g>
<g id="c17r57" class="B" transform="translate(0 437.3)"><use href="#r"/><use href="#p"/><text>B</text></g>
<g id="c17r59" class="B" transform="translate(0 515.9)"><use href="#r"/><use href="#p"/><text>B</text></g>
<g id="c17r61" class="B" transform="translate(0 594.4)"><use href="#r"/><use href="#p"/><text>B</text></g>
<g id="c17r63" class="B" transform="translate(0 673)"><use href="#r"/><use href="#p"/><text>B</text></g>
<g id="c17r65" class="B" transform="translate(0 751.5)"><use href="#r"/><use href="#p"/><text>B</text></g>
<g id="c17r67" class="C" transform="translate(0 830.1)"><use href="#r"/><use href="#p"/><text>C</text></g>
<g id="c17r69" class="C" transform="translate(0 908.7)"><use href="#r"/><use href="#p"/><text>C</text></g>
<g id="c17r71" class="C" transform="translate(0 987.2)"><use href="#r"/><use href="#p"/><text>C</text></g>
<g id="c17r73" class="C" transform="translate(0 1065.8)"><use href="#r"/><use href="#p"/><text>C</text></g>
<g id="c17r75" class="C" transform="translate(0 1144.3)"><use href="#r"/><use href="#p"/><text>C</text></g>
<g id="c17r77" class="C" transform="translate(0 1222.9)"><use href="#r"/><use href="#p"/><text>C</text></g>
<g id="c17r79" class="B" transform="translate(0 1301.5)"><use href="#r"/><use href="#p"/><text>B</text></g>
<g id="c17r81" class="B" transform="translate(0 1380)"><use href="#r"/><use href="#p"/><text>B</text></g>
<g id="c17r83" class="B" transform="translate(0 1458.6)"><use href="#r"/><use href="#p"/><text>B</text></g>
<g id="c17r85" class="B" transform="translate(0 1537.1)"><use href="#r"/><use href="#p"/><text>B</text></g>
<g id="c17r87" class="B" transform="translate(0 1615.7)"><use href="#r"/><use href="#p"/><text>B</text></g>
<g id="c17r89" class="D" transform="translate(0 1694.3)"><use href="#r"/><text>D</text></g>
<g id="c17r91" class="D" transform="translate(0 1772.8)"><use href="#r"/><text>D</text></g>
</g>
<g id="col18" class="col" transform="translate(1076.93 13.5)">
<g id="c18r47" class="D" transform="translate(0 44.5)"><use href="#r"/><text>D</text></g>
<g id="c18r49" class="D" transform="translate(0 123.1)"><use href="#r"/><text>D</text></g>
<g id="c18r51" class="B" transform="translate(0 201.6)"><use href="#r"/><use href="#p"/><text>B</text></g>
<g id="c18r53" class="B" transform="translate(0 280.2)"><use href="#r"/><use href="#p"/><text>B</text></g>
<g id="c18r55" class="B" transform="translate(0 358.7)"><use href="#r"/><use href="#p"/><text>B</text></g>
<g id="c18r57" class="B" transform="translate(0 437.3)"><use href="#r"/><use href="#p"/><text>B</text></g>
<g id="c18r59" class="B" transform="translate(0 515.9)"><use href="#r"/><use href="#p"/><text>B</text></g>
<g id="c18r61" class="B" transform="translate(0 594.4)"><use href="#r"/><use href="#p"/><text>B</text></g>
<g id="c18r63" class="B" transform="translate(0 673)"><use href="#r"/><use href="#p"/><text>B</text></g>
<g id="c18r65" class="B" transform="translate(0 751.5)"><use href="#r"/><use href="#p"/><text>B</text></g>
<g id="c18r67" class="C" transform="translate(0 830.1)"><use href="#r"/><use href="#p"/><text>C</text></g>
<g id="c18r69" class="C" transform="translate(0 908.7)"><use href="#r"/><use href="#p"/><text>C</text></g>
<g id="c18r71" class="C" transform="translate(0 987.2)"><use href="#r"/><use href="#p"/><text>C</text></g>
<g id="c18r73" class="C" transform="translate(0 1065.8)"><use href="#r"/><use href="#p"/><text>C</text></g>
<g id="c18r75" class="C" transform="translate(0 1144.3)"><use href="#r"/><use href="#p"/><text>C</text></g>
<g id="c18r77" class="C" transform="translate(0 1222.9)"><use href="#r"/><use href="#p"/><text>C</text></g>
<g id="c18r79" class="B" transform="translate(0 1301.5)"><use href="#r"/><use href="#p"/><text>B</text></g>
<g id="c18r81" class="B" transform="translate(0 1380)"><use href="#r"/><use href="#p"/><text>B</text></g>
<g id="c18r83" class="B" transform="translate(0 1458.6)"><use href="#r"/><use href="#p"/><text>B</text></g>
<g id="c18r85" class="B" transform="translate(0 1537.1)"><use href="#r"/><use href="#p"/><text>B</text></g>
<g id="c18r87" class="B" transform="translate(0 1615.7)"><use href="#r"/><use href="#p"/><text>B</text></g>
<g id="c18r89" class="B" transform="translate(0 1694.3)"><use href="#r"/><use href="#p"/><text>B</text></g>
<g id="c18r91" class="B" transform="translate(0 1772.8)"><use href="#r"/><use href="#p"/><text>B</text></g>
</g>
<g id="col19" class="col" transform="translate(1135.67 13.5)">
<g id="c19r48" class="D" transform="translate(0 83.8)"><use href="#r"/><text>D</text></g>
<g id="c19r50" class="B" transform="translate(0 162.3)"><use href="#r"/><use href="#p"/><text>B</text></g>
<g id="c19r52" class="B" transform="translate(0 240.9)"><use href="#r"/><use href="#p"/><text>B</text></g>
<g id="c19r54" class="B" transform="translate(0 319.5)"><use href="#r"/><use href="#p"/><text>B</text></g>
<g id="c19r56" class="B" transform="translate(0 398)"><use href="#r"/><use href="#p"/><text>B</text></g>
<g id="c19r58" class="B" transform="translate(0 476.6)"><use href="#r"/><use href="#p"/><text>B</text></g>
<g id="c19r60" class="B" transform="translate(0 555.1)"><use href="#r"/><use href="#p"/><text>B</text></g>
<g id="c19r62" class="B" transform="translate(0 633.7)"><use href="#r"/><use href="#p"/><text>B</text></g>
<g id="c19r64" class="B" transform="translate(0 712.3)"><use href="#r"/><use href="#p"/><text>B</text></g>
<g id="c19r66" class="B" transform="translate(0 790.8)"><use href="#r"/><use href="#p"/><text>B</text></g>
<g id="c19r68" class="B" transform="translate(0 869.4)"><use href="#r"/><use href="#p"/><text>B</text></g>
<g id="c19r70" class="C" transform="translate(0 947.9)"><use href="#r"/><use href="#p"/><text>C</text></g>
<g id="c19r72" class="C" transform="translate(0 1026.5)"><use href="#r"/><use href="#p"/><text>C</text></g>
<g id="c19r74" class="C" transform="translate(0 1105.1)"><use href="#r"/><use href="#p"/><text>C</text></g>
<g id="c19r76" class="C" transform="translate(0 1183.6)"><use href="#r"/><use href="#p"/><text>C</text></g>
<g id="c19r78" class="C" transform="translate(0 1262.2)"><use href="#r"/><use href="#p"/><text>C</text></g>
<g id="c19r80" class="B" transform="translate(0 1340.7)"><use href="#r"/><use href="#p"/><text>B</text></g>
<g id="c19r82" class="B" transform="translate(0 1419.3)"><use href="#r"/><use href="#p"/><text>B</text></g>
<g id="c19r84" class="B" transform="translate(0 1497.9)"><use href="#r"/><use href="#p"/><text>B</text></g>
<g id="c19r86" class="B" transform="translate(0 1576.4)"><use href="#r"/><use href="#p"/><text>B</text></g>
<g id="c19r88" class="B" transform="translate(0 1655)"><use href="#r"/><use href="#p"/><text>B</text></g>
<g id="c19r90" class="B" transform="translate(0 1733.5)"><use href="#r"/><use href="#p"/><text>B</text></g>
<g id="c19r92" class="B" transform="translate(0 1812.1)"><use href="#r"/><use href="#p"/><text>B</text></g>
</g>
<g id="col20" class="col" transform="translate(1194.41 13.5)">
<g id="c20r48" class="B" transform="translate(0 83.8)"><use href="#r"/><use href="#p"/><text>B</text></g>
<g id="c20r50" class="B" transform="translate(0 162.3)"><use href="#r"/><use href="#p"/><text>B</text></g>
<g id="c20r52" class="B" transform="translate(0 240.9)"><use href="#r"/><use href="#p"/><text>B</text></g>
<g id="c20r54" class="B" transform="translate(0 319.5)"><use href="#r"/><use href="#p"/><text>B</text></g>
<g id="c20r56" class="B" transform="translate(0 398)"><use href="#r"/><use href="#p"/><text>B</text></g>
<g id="c20r58" class="B" transform="translate(0 476.6)"><use href="#r"/><use href="#p"/><text>B</text></g>
<g id="c20r60" class="B" transform="translate(0 555.1)"><use href="#r"/><use href="#p"/><text>B</text></g>
<g id="c20r62" class="B" transform="translate(0 633.7)"><use href="#r"/><use href="#p"/><text>B</text></g>
<g id="c20r64" class="B" transform="translate(0 712.3)"><use href="#r"/><use href="#p"/><text>B</text></g>
<g id="c20r66" class="B" transform="translate(0 790.8)"><use href="#r"/><use href="#p"/><text>B</text></g>
<g id="c20r68" class="B" transform="translate(0 869.4)"><use href="#r"/><use href="#p"/><text>B</text></g>
<g id="c20r70" class="C" transform="translate(0 947.9)"><use href="#r"/><use href="#p"/><text>C</text></g>
<g id="c20r72" class="C" transform="translate(0 1026.5)"><use href="#r"/><use href="#p"/><text>C</text></g>
<g id="c20r74" class="C" transform="translate(0 1105.1)"><use href="#r"/><use href="#p"/><text>C</text></g>
<g id="c20r76" class="C" transform="translate(0 1183.6)"><use href="#r"/><use href="#p"/><text>C</text></g>
<g id="c20r78" class="B" transform="translate(0 1262.2)"><use href="#r"/><use href="#p"/><text>B</text></g>
<g id="c20r80" class="B" transform="translate(0 1340.7)"><use href="#r"/><use href="#p"/><text>B</text></g>
<g id="c20r82" class="B" transform="translate(0 1419.3)"><use href="#r"/><use href="#p"/><text>B</text></g>
<g id="c20r84" class="B" transform="translate(0 1497.9)"><use href="#r"/><use href="#p"/><text>B</text></g>
<g id="c20r86" class="B" transform="translate(0 1576.4)"><use href="#r"/><use href="#p"/><text>B</text></g>
<g id="c20r88" class="B" transform="translate(0 1655)"><use href="#r"/><use href="#p"/><text>B</text></g>
<g id="c20r90" class="B" transform="translate(0 1733.5)"><use href="#r"/><use href="#p"/><text>B</text></g>
<g id="c20r92" class="B" transform="translate(0 1812.1)"><use href="#r"/><use href="#p"/><text>B</text></g>
</g>
<g id="col21" class="col" transform="translate(1253.15 13.5)">
<g id="c21r47" class="B" transform="translate(0 44.5)"><use href="#r"/><use href="#p"/><text>B</text></g>
<g id="c21r49" class="B" transform="translate(0 123.1)"><use href="#r"/><use href="#p"/><text>B</text></g>
<g id="c21r51" class="B" transform="translate(0 201.6)"><use href="#r"/><use href="#p"/><text>B</text></g>
<g id="c21r53" class="B" transform="translate(0 280.2)"><use href="#r"/><use href="#p"/><text>B</text></g>
<g id="c21r55" class="D" transform="translate(0 358.7)"><use href="#r"/><text>D</text></g>
<g id="c21r57" class="D" transform="translate(0 437.3)"><use href="#r"/><text>D</text></g>
<g id="c21r59" class="D" transform="translate(0 515.9)"><use href="#r"/><text>D</text></g>
<g id="c21r61" class="B" transform="translate(0 594.4)"><use href="#r"/><use href="#p"/><text>B</text></g>
<g id="c21r63" class="B" transform="translate(0 673)"><use href="#r"/><use href="#p"/><text>B</text></g>
<g id="c21r65" class="B" transform="translate(0 751.5)"><use href="#r"/><use href="#p"/><text>B</text></g>
<g id="c21r67" class="B" transform="translate(0 830.1)"><use href="#r"/><use href="#p"/><text>B</text></g>
<g id="c21r69" class="B" transform="translate(0 908.7)"><use href="#r"/><use href="#p"/><text>B</text></g>
<g id="c21r71" class="B" transform="translate(0 987.2)"><use href="#r"/><use href="#p"/><text>B</text></g>
<g id="c21r73" class="B" transform="translate(0 1065.8)"><use href="#r"/><use href="#p"/><text>B</text></g>
<g id="c21r75" class="B" transform="translate(0 1144.3)"><use href="#r"/><use href="#p"/><text>B</text></g>
<g id="c21r77" class="B" transform="translate(0 1222.9)"><use href="#r"/><use href="#p"/><text>B</text></g>
<g id="c21r79" class="B" transform="translate(0 1301.5)"><use href="#r"/><use href="#p"/><text>B</text></g>
<g id="c21r81" class="B" transform="translate(0 1380)"><use href="#r"/><use href="#p"/><text>B</text></g>
<g id="c21r83" class="B" transform="translate(0 1458.6)"><use href="#r"/><use href="#p"/><text>B</text></g>
<g id="c21r85" class="B" transform="translate(0 1537.1)"><use href="#r"/><use href="#p"/><text>B</text></g>
<g id="c21r87" class="B" transform="translate(0 1615.7)"><use href="#r"/><use href="#p"/><text>B</text></g>
<g id="c21r89" class="B" transform="translate(0 1694.3)"><use href="#r"/><use href="#p"/><text>B</text></g>
<g id="c21r91" class="B" transform="translate(0 1772.8)"><use href="#r"/><use href="#p"/><text>B</text></g>
</g>
<g id="col22" class="col" transform="translate(1311.89 13.5)">
<g id="c22r47" class="B" transform="translate(0 44.5)"><use href="#r"/><use href="#p"/><text>B</text></g>
<g id="c22r49" class="B" transform="translate(0 123.1)"><use href="#r"/><use href="#p"/><text>B</text></g>
<g id="c22r51" class="B" transform="translate(0 201.6)"><use href="#r"/><use href="#p"/><text>B</text></g>
<g id="c22r53" class="D" transform="translate(0 280.2)"><use href="#r"/><text>D</text></g>
<g id="c22r55" class="D" transform="translate(0 358.7)"><use href="#r"/><text>D</text></g>
<g id="c22r57" class="D" transform="translate(0 437.3)"><use href="#r"/><text>D</text></g>
<g id="c22r59" class="D" transform="translate(0 515.9)"><use href="#r"/><text>D</text></g>
<g id="c22r61" class="D" transform="translate(0 594.4)"><use href="#r"/><text>D</text></g>
<g id="c22r63" class="D" transform="translate(0 673)"><use href="#r"/><text>D</text></g>
<g id="c22r65" class="B" transform="translate(0 751.5)"><use href="#r"/><use href="#p"/><text>B</text></g>
<g id="c22r67" class="B" transform="translate(0 830.1)"><use href="#r"/><use href="#p"/><text>B</text></g>
<g id="c22r69" class="B" transform="translate(0 908.7)"><use href="#r"/><use href="#p"/><text>B</text></g>
<g id="c22r71" class="B" transform="translate(0 987.2)"><use href="#r"/><use href="#p"/><text>B</text></g>
<g id="c22r73" class="B" transform="translate(0 1065.8)"><use href="#r"/><use href="#p"/><text>B</text></g>
<g id="c22r75" class="B" transform="translate(0 1144.3)"><use href="#r"/><use href="#p"/><text>B</text></g>
<g id="c22r77" class="B" transform="translate(0 1222.9)"><use href="#r"/><use href="#p"/><text>B</text></g>
<g id="c22r79" class="B" transform="translate(0 1301.5)"><use href="#r"/><use href="#p"/><text>B</text></g>
<g id="c22r81" class="B" transform="translate(0 1380)"><use href="#r"/><use href="#p"/><text>B</text></g>
<g id="c22r83" class="B" transform="translate(0 1458.6)"><use href="#r"/><use href="#p"/><text>B</text></g>
<g id="c22r85" class="B" transform="translate(0 1537.1)"><use href="#r"/><use href="#p"/><text>B</text></g>
<g id="c22r87" class="B" transform="translate(0 1615.7)"><use href="#r"/><use href="#p"/><text>B</text></g>
<g id="c22r89" class="B" transform="translate(0 1694.3)"><use href="#r"/><use href="#p"/><text>B</text></g>
<g id="c22r91" class="B" transform="translate(0 1772.8)"><use href="#r"/><use href="#p"/><text>B</text></g>
</g>
<g id="col23" class="col" transform="translate(1370.63 13.5)">
<g id="c23r48" class="B" transform="translate(0 83.8)"><use href="#r"/><use href="#p"/><text>B</text></g>
<g id="c23r50" class="B" transform="translate(0 162.3)"><use href="#r"/><use href="#p"/><text>B</text></g>
<g id="c23r52" class="D" transform="translate(0 240.9)"><use href="#r"/><text>D</text></g>
<g id="c23r54" class="D" transform="translate(0 319.5)"><use href="#r"/><text>D</text></g>
<g id="c23r56" class="D" transform="translate(0 398)"><use href="#r"/><text>D</text></g>
<g id="c23r58" class="D" transform="translate(0 476.6)"><use href="#r"/><text>D</text></g>
<g id="c23r60" class="D" transform="translate(0 555.1)"><use href="#r"/><text>D</text></g>
<g id="c23r62" class="D" transform="translate(0 633.7)"><use href="#r"/><text>D</text></g>
<g id="c23r64" class="D" transform="translate(0 712.3)"><use href="#r"/><text>D</text></g>
<g id="c23r66" class="D" transform="translate(0 790.8)"><use href="#r"/><text>D</text></g>
<g id="c23r68" class="D" transform="translate(0 869.4)"><use href="#r"/><text>D</text></g>
<g id="c23r70" class="B" transform="translate(0 947.9)"><use href="#r"/><use href="#p"/><text>B</text></g>
<g id="c23r72" class="B" transform="translate(0 1026.5)"><use href="#r"/><use href="#p"/><text>B</text></g>
<g id="c23r74" class="B" transform="translate(0 1105.1)"><use href="#r"/><use href="#p"/><text>B</text></g>
<g id="c23r76" class="B" transform="translate(0 1183.6)"><use href="#r"/><use href="#p"/><text>B</text></g>
<g id="c23r78" class="B" transform="translate(0 1262.2)"><use href="#r"/><use href="#p"/><text>B</text></g>
<g id="c23r80" class="B" transform="translate(0 1340.7)"><use href="#r"/><use href="#p"/><text>B</text></g>
<g id="c23r82" class="B" transform="translate(0 1419.3)"><use href="#r"/><use href="#p"/><text>B</text></g>
<g id="c23r84" class="B" transform="translate(0 1497.9)"><use href="#r"/><use href="#p"/><text>B</text></g>
<g id="c23r86" class="B" transform="translate(0 1576.4)"><use href="#r"/><use href="#p"/><text>B</text></g>
<g id="c23r88" class="B" transform="translate(0 1655)"><use href="#r"/><use href="#p"/><text>B</text></g>
<g id="c23r90" class="B" transform="translate(0 1733.5)"><use href="#r"/><use href="#p"/><text>B</text></g>
<g id="c23r92" class="C" transform="translate(0 1812.1)"><use href="#r"/><use href="#p"/><text>C</text></g>
</g>
</g>
</svg>
